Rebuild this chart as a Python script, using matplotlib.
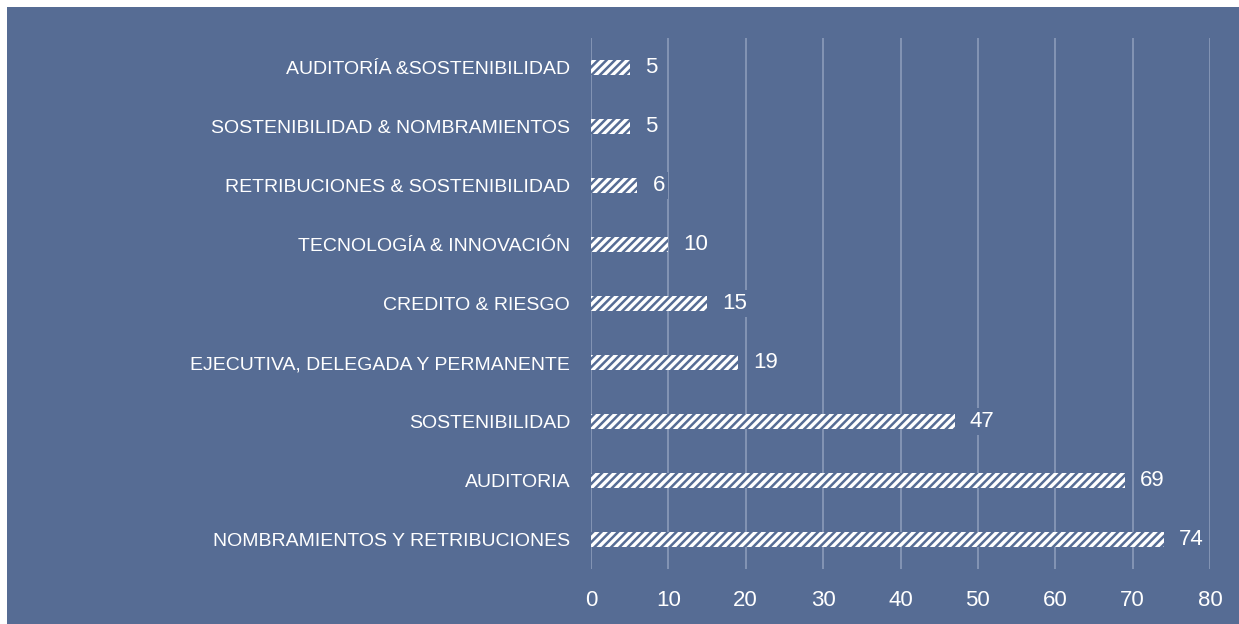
import matplotlib.pyplot as plt
from matplotlib.patches import Rectangle

plt.rcParams['font.family'] = ['Liberation Sans', 'DejaVu Sans']
plt.rcParams['hatch.linewidth'] = 1.8

# comisiones (de abajo hacia arriba)
comisiones = [
    'NOMBRAMIENTOS Y RETRIBUCIONES',
    'AUDITORIA',
    'SOSTENIBILIDAD',
    'EJECUTIVA, DELEGADA Y PERMANENTE',
    'CREDITO & RIESGO',
    'TECNOLOGÍA & INNOVACIÓN',
    'RETRIBUCIONES & SOSTENIBILIDAD',
    'SOSTENIBILIDAD & NOMBRAMIENTOS',
    'AUDITORÍA &SOSTENIBILIDAD',
]
valores = [74, 69, 47, 19, 15, 10, 6, 5, 5]
ticks_x = [0, 10, 20, 30, 40, 50, 60, 70, 80]

fondo = '#566C94'
rejilla = '#8C9CBA'

W, H = 1239, 624
fig = plt.figure(figsize=(W / 100, H / 100), dpi=100)
fig.patch.set_facecolor('white')
# panel azul con margen blanco arriba/izquierda
fig.patches.append(Rectangle((7 / W, 0), 1 - 7 / W, 1 - 7 / H,
                             transform=fig.transFigure, facecolor=fondo,
                             edgecolor='none', zorder=-10))

ax = fig.add_axes([591 / W, (H - 569) / H, (1210 - 591) / W, (569 - 38) / H])
ax.set_facecolor('none')

y = list(range(len(comisiones)))
ax.barh(y, valores, height=0.27, color='white', edgecolor=fondo,
        hatch='////', linewidth=0, zorder=3)

for yi, v in zip(y, valores):
    ax.annotate(str(v), (v, yi), xytext=(11, 0), textcoords='offset points',
                va='center', ha='left', fontsize=16, color='white', zorder=4,
                bbox=dict(boxstyle='square,pad=0.15', facecolor=fondo,
                          edgecolor='none'))

ax.set_xlim(0, 80)
ax.set_ylim(-0.5, len(comisiones) - 0.5)
ax.set_xticks(ticks_x)
ax.set_yticks(y)
ax.set_yticklabels(comisiones)
ax.tick_params(axis='x', length=0, pad=15, labelsize=16, labelcolor='white')
ax.tick_params(axis='y', length=0, pad=15, labelsize=14, labelcolor='white')
ax.grid(axis='x', color=rejilla, linewidth=1.2, zorder=1)
ax.set_axisbelow(True)
for s in ax.spines.values():
    s.set_visible(False)

fig.savefig('out.png', dpi=100)
